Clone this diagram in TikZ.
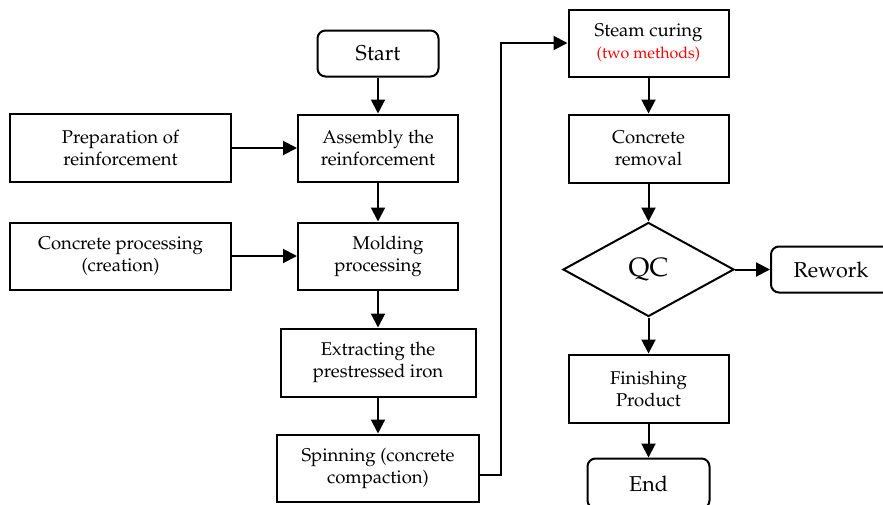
\documentclass[tikz,border=0pt]{standalone}
\usepackage[T1]{fontenc}
\usepackage{mathpazo}
\usetikzlibrary{shapes.geometric, positioning, arrows.meta}
\tikzset{
    ->,
    >={Triangle[length=14pt,width=14pt]},
    node distance=35pt,
    every picture/.style={line width=2pt},
    block/.style={draw, minimum width=160pt, minimum height=67pt, align=center, inner sep=2pt, font=\fontsize{18.5}{22}\selectfont},
    term/.style={draw, rounded corners=8pt, minimum width=121pt, minimum height=46pt, font=\fontsize{21.5}{24}\selectfont},
    decision/.style={diamond, draw, aspect=1.8, minimum width=171pt, minimum height=94pt, inner sep=0pt, font=\fontsize{26.5}{30}\selectfont},
}

\begin{document}
\begin{tikzpicture}[x=1pt, y=1pt]
        \useasboundingbox (0,0) rectangle (883,-504);

        \node[term] (start) at (378,-53.5) {Start};
        \node[block, below=36pt of start] (asm) {Assembly the\\reinforcement};
        \node[block, below=39pt of asm] (mold) {\hspace*{20pt}Molding\\processing};
        \node[block, below=37pt of mold, minimum width=195pt, minimum height=68pt] (extr) {Extracting the\\prestressed iron};
        \node[block, below=36pt of extr, minimum width=202pt] (spin) {Spinning (concrete\\compaction)};
        \node[block, left=65pt of asm, minimum width=221pt, minimum height=68pt] (prep) {Preparation of\\reinforcement};
        \node[block, left=65pt of mold, minimum width=221pt] (conc) {Concrete processing\\(creation)};

        \node[block] (steam) at (648.5,-43) {Steam curing\\{\color{red}\fontsize{16}{18}\selectfont(two methods)}};
        \node[block, below=36pt of steam, minimum height=68pt] (remov) {Concrete\\removal};
        \node[decision, below=38pt of remov] (qc) {QC};
        \node[term, right=of qc, minimum width=120pt] (rework) {Rework};
        \node[block, below=36pt of qc, minimum height=68pt] (finish) {Finishing\\Product};
        \node[term, below=34pt of finish, minimum width=122pt, minimum height=50pt] (stop) {End};

        \draw
            (start) edge (asm)
            (prep) edge (asm)
            (asm) edge (mold)
            (conc) edge (mold)
            (mold) edge (extr)
            (extr) edge (spin)
            (steam) edge (remov)
            (remov) edge (qc)
            (qc) edge (rework)
            (qc) edge (finish)
            (finish) edge (stop);
        \draw ([yshift=-7pt]spin.east) -- ++(21,0) |- (steam);
    \end{tikzpicture}
\end{document}
